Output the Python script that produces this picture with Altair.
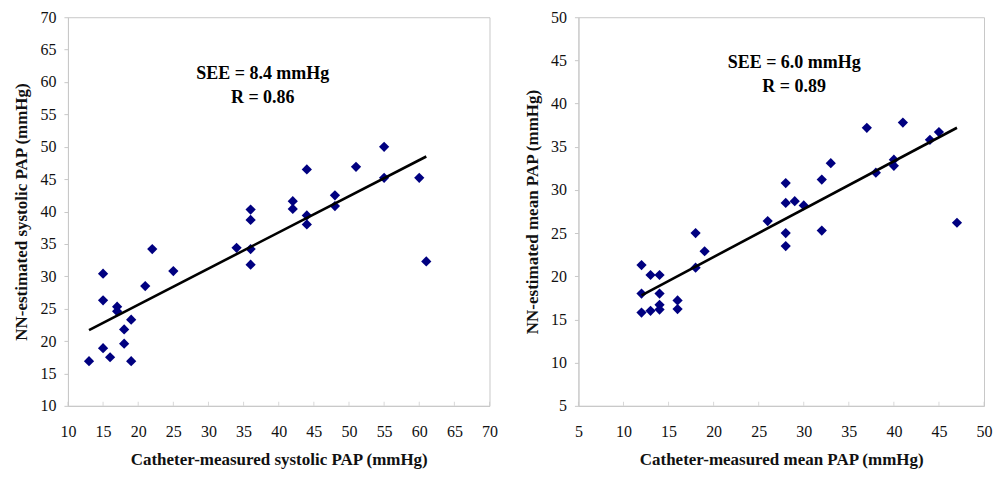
import altair as alt
import pandas as pd

# ---- Left panel: systolic PAP ----
sys_cath = [13, 15, 15, 15, 16, 17, 17, 18, 18, 19, 19, 21, 22, 25, 34, 36, 36, 36, 36,
            42, 42, 44, 44, 44, 48, 48, 51, 55, 55, 60, 61]
sys_nn = [16.9, 30.4, 26.3, 18.9, 17.5, 25.3, 24.6, 21.8, 19.6, 23.3, 16.9, 28.5, 34.2, 30.8,
          34.4, 40.3, 38.7, 34.2, 31.8, 41.6, 40.4, 46.5, 39.4, 38.0, 42.5, 40.85, 46.9,
          50.0, 45.2, 45.2, 32.3]
sys_fit_x = [13, 61]
sys_fit_y = [21.7, 48.5]
sys_xticks = [10, 15, 20, 25, 30, 35, 40, 45, 50, 55, 60, 65, 70]
sys_yticks = [10, 15, 20, 25, 30, 35, 40, 45, 50, 55, 60, 65, 70]
sys_ann = ["SEE = 8.4 mmHg", "R = 0.86"]

# ---- Right panel: mean PAP ----
mean_cath = [12, 12, 12, 13, 13, 14, 14, 14, 14, 16, 16, 18, 18, 19, 26, 28, 28, 28, 28,
             29, 30, 32, 32, 33, 37, 38, 40, 40, 41, 44, 45, 47]
mean_nn = [21.3, 18.0, 15.8, 20.15, 16.0, 20.15, 18.0, 16.7, 16.15, 17.2, 16.2, 25.0, 21.0,
           22.9, 26.4, 30.8, 28.5, 25.0, 23.5, 28.7, 28.2, 31.2, 25.3, 33.1, 37.2, 32.0,
           33.5, 32.8, 37.8, 35.8, 36.7, 26.2]
mean_fit_x = [12, 47]
mean_fit_y = [17.8, 37.2]
mean_xticks = [5, 10, 15, 20, 25, 30, 35, 40, 45, 50]
mean_yticks = [5, 10, 15, 20, 25, 30, 35, 40, 45, 50]
mean_ann = ["SEE = 6.0 mmHg", "R = 0.89"]

FONT = "Liberation Serif"
GRAY = "#c8c8c8"


def panel(cx, cy, fx, fy, xticks, yticks, xtitle, ytitle, ann, ann_x, ann_y, w, h):
    xs = alt.Scale(domain=[xticks[0], xticks[-1]], nice=False, zero=False)
    ys = alt.Scale(domain=[yticks[0], yticks[-1]], nice=False, zero=False)
    xaxis = alt.Axis(values=xticks, title=xtitle, tickSize=0, labelPadding=18,
                     labelFlush=False, labelOverlap=False, titlePadding=12, grid=False,
                     domainColor=GRAY, labelFontSize=16, titleFontSize=17,
                     titleFontWeight="bold", labelColor="#111111", titleColor="#111111")
    yaxis = alt.Axis(values=yticks, title=ytitle, tickSize=4, labelPadding=8,
                     labelOverlap=False, titlePadding=9, grid=False, domainColor=GRAY,
                     tickColor=GRAY, labelFontSize=16, titleFontSize=17,
                     titleFontWeight="bold", labelColor="#111111", titleColor="#111111")
    pts = pd.DataFrame({"x": cx, "y": cy})
    fit = pd.DataFrame({"x": fx, "y": fy})
    tk = pd.DataFrame({"x": xticks})

    X = lambda: alt.X("x:Q", scale=xs, axis=xaxis)
    Y = lambda: alt.Y("y:Q", scale=ys, axis=yaxis)

    points = alt.Chart(pts).mark_point(shape="diamond", filled=True, size=105,
                                       color="#000080", opacity=1).encode(x=X(), y=Y())
    line = alt.Chart(fit).mark_line(color="black", strokeWidth=2.6).encode(x=X(), y=Y())
    ticks = alt.Chart(tk).mark_tick(orient="vertical", size=4, thickness=1,
                                    color=GRAY, yOffset=-2).encode(
        x=X(), y=alt.datum(yticks[0], scale=ys, axis=yaxis)
    )
    texts = []
    for i, t in enumerate(ann):
        texts.append(
            alt.Chart(pd.DataFrame({"t": [t]})).mark_text(
                font=FONT, fontSize=18, fontWeight="bold", color="black",
                align="center", baseline="middle"
            ).encode(text="t:N", x=alt.value(ann_x), y=alt.value(ann_y + 24 * i))
        )
    return alt.layer(points, line, ticks, *texts).properties(width=w, height=h)


left = panel(sys_cath, sys_nn, sys_fit_x, sys_fit_y, sys_xticks, sys_yticks,
             "Catheter-measured systolic PAP (mmHg)", "NN-estimated systolic PAP (mmHg)",
             sys_ann, 195, 57, 422, 389)
right = panel(mean_cath, mean_nn, mean_fit_x, mean_fit_y, mean_xticks, mean_yticks,
              "Catheter-measured mean PAP (mmHg)", "NN-estimated mean PAP (mmHg)",
              mean_ann, 216, 46, 406, 389)

chart = alt.hconcat(left, right, spacing=89, bounds="flush").properties(
    padding={"left": 4, "top": 0, "right": 0, "bottom": 0}
).configure(font=FONT).configure_axis(
    labelFont=FONT, titleFont=FONT
).configure_view(stroke=GRAY, strokeWidth=1)

chart.save("out.html", embed_options={"renderer": "svg", "actions": False})
